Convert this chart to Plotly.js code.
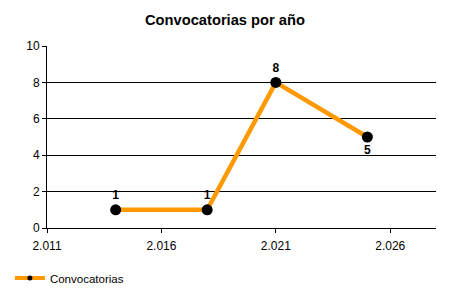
<!DOCTYPE html>
<html><head><meta charset="utf-8">
<script src="https://cdn.plot.ly/plotly-3.0.1.min.js"></script>
<style>html,body{margin:0;padding:0;background:#fff}#c{width:450px;height:300px}</style>
</head><body><div id="c"></div>
<script>
const years = [2014, 2018, 2021, 2025];
const counts = [1, 1, 8, 5];
const labelPos = ["top center", "top center", "top center", "bottom center"];
const seriesName = "Convocatorias";
const chartTitle = "Convocatorias por año";

const FONT = "Liberation Sans, Arial, sans-serif";
const trace = {
  x: years, y: counts, name: seriesName, showlegend: false,
  type: "scatter", mode: "lines+markers+text",
  text: counts.map(String), textposition: labelPos,
  textfont: {family: FONT, size: 12, color: "#000", weight: "bold"},
  line: {color: "#FF9900", width: 4.5},
  marker: {color: "#000", size: 11},
  cliponaxis: false
};
// legend-only entry with the small legend marker of the original
const legendTrace = {
  x: [null], y: [null], name: seriesName, type: "scatter", mode: "lines+markers",
  line: {color: "#FF9900", width: 4}, marker: {color: "#000", size: 5}
};
const layout = {
  width: 450, height: 300,
  margin: {l: 47, r: 14, t: 46, b: 72},
  paper_bgcolor: "#fff", plot_bgcolor: "#fff",
  separators: ",.",
  font: {family: FONT, size: 12, color: "#000"},
  title: {text: "<b>" + chartTitle + "</b>", x: 0.5, xref: "container", y: 0.935, yanchor: "middle",
          font: {size: 14.7, color: "#000"}},
  xaxis: {range: [2011, 2028], tick0: 2011, dtick: 5, tickformat: ",d",
          showgrid: false, zeroline: false, showline: true, linecolor: "#000", linewidth: 1,
          ticks: "outside", ticklen: 4, tickcolor: "#000", ticklabelstandoff: 3, fixedrange: true},
  yaxis: {range: [0, 10], dtick: 2, showgrid: true, gridcolor: "#000", gridwidth: 1,
          zeroline: false, showline: true, linecolor: "#000", linewidth: 1,
          ticks: "outside", ticklen: 4, tickcolor: "#000", fixedrange: true},
  showlegend: true,
  legend: {xref: "container", yref: "container", x: 0.022, y: 0.073, xanchor: "left", yanchor: "middle",
           orientation: "h", font: {size: 11.5}, bgcolor: "rgba(0,0,0,0)"}
};
Plotly.newPlot("c", [trace, legendTrace], layout, {displayModeBar: false, staticPlot: true});
</script></body></html>
